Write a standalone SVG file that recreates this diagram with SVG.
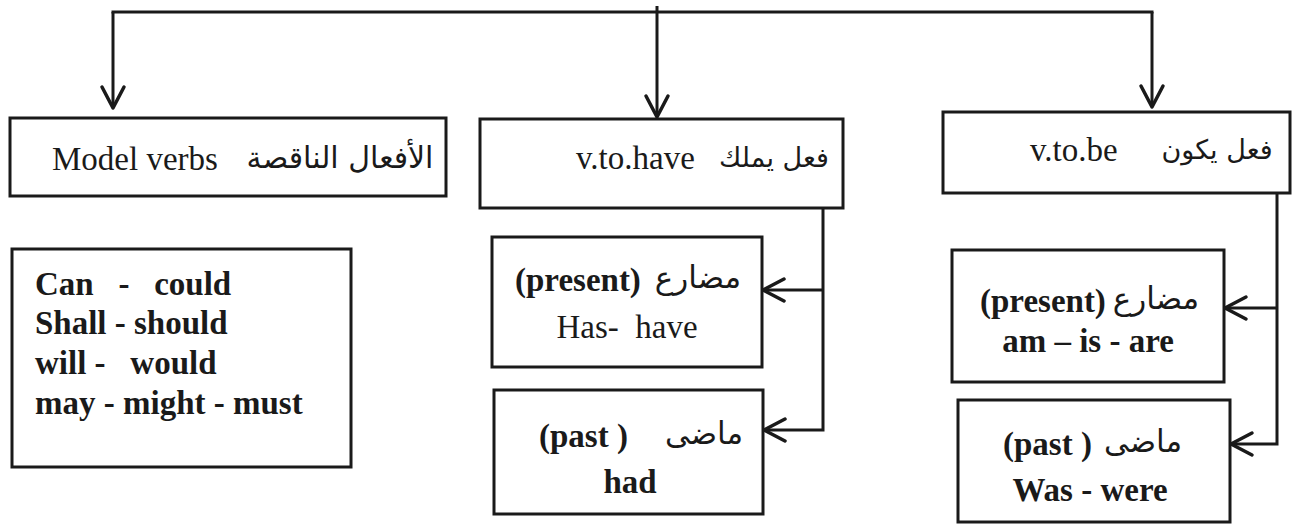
<svg xmlns="http://www.w3.org/2000/svg" width="1301" height="526" viewBox="0 0 1301 526">
<defs>
<style>
.box{fill:#fff;stroke:#1a1a1a;stroke-width:3}
.ln{fill:none;stroke:#1a1a1a;stroke-width:3}
.t{font-family:"Liberation Serif","Times New Roman",serif;font-size:33px;fill:#1a1a1a}
.b{font-weight:bold}
.ar{font-family:"DejaVu Sans",sans-serif;font-size:27px;fill:#1a1a1a}
.ar2{font-family:"DejaVu Sans",sans-serif;font-size:31px;fill:#1a1a1a}
</style>
<marker id="arr" viewBox="0 0 24 24" refX="22" refY="12" markerWidth="24" markerHeight="24" markerUnits="userSpaceOnUse" orient="auto" overflow="visible">
<path d="M1,1 L22,12 L1,23" fill="none" stroke="#1a1a1a" stroke-width="3.5" stroke-linejoin="round" stroke-linecap="round"/>
</marker>
</defs>
<rect width="1301" height="526" fill="#fff"/>

<g id="connectors">
<path class="ln" d="M111.5,12 H1153.5"/>
<path class="ln" d="M113,12 V108" marker-end="url(#arr)"/>
<path class="ln" d="M657,6 V117" marker-end="url(#arr)"/>
<path class="ln" d="M1152,12 V107" marker-end="url(#arr)"/>
<path class="ln" d="M823,208 V430 H764" marker-end="url(#arr)"/>
<path class="ln" d="M823,290 H763" marker-end="url(#arr)"/>
<path class="ln" d="M1277,193 V444 H1231" marker-end="url(#arr)"/>
<path class="ln" d="M1277,308 H1225" marker-end="url(#arr)"/>
</g>

<g id="modal-verbs">
<rect class="box" x="10" y="118" width="436" height="78"/>
<text class="t" x="52" y="170">Model verbs</text>
<text class="ar" x="340" y="168" text-anchor="middle" style="font-size:30px">الأفعال الناقصة</text>
</g>

<g id="to-have">
<rect class="box" x="480" y="119" width="363" height="89"/>
<text class="t" x="576" y="169">v.to.have</text>
<text class="ar" x="774" y="167" text-anchor="middle">فعل يملك</text>
</g>

<g id="to-be">
<rect class="box" x="943" y="112" width="347" height="81"/>
<text class="t" x="1030" y="161">v.to.be</text>
<text class="ar" x="1217" y="159" text-anchor="middle">فعل يكون</text>
</g>

<g id="modal-list">
<rect class="box" x="12" y="249" width="339" height="218"/>
<text class="t b" x="35" y="295" xml:space="preserve">Can   -   could</text>
<text class="t b" x="35" y="334">Shall - should</text>
<text class="t b" x="35" y="374" xml:space="preserve">will -   would</text>
<text class="t b" x="35" y="414">may - might - must</text>
</g>

<g id="have-present">
<rect class="box" x="492" y="237" width="270" height="130"/>
<text class="t b" x="515" y="291">(present)</text>
<text class="ar2" x="698" y="288" text-anchor="middle">مضارع</text>
<text class="t" x="627" y="338" text-anchor="middle" xml:space="preserve">Has-  have</text>
</g>

<g id="have-past">
<rect class="box" x="494" y="390" width="269" height="124"/>
<text class="t b" x="539" y="447">(past )</text>
<text class="ar2" x="704" y="444" text-anchor="middle">ماضى</text>
<text class="t b" x="630" y="493" text-anchor="middle">had</text>
</g>

<g id="be-present">
<rect class="box" x="952" y="250" width="272" height="132"/>
<text class="t b" x="980" y="312">(present)</text>
<text class="ar2" x="1156" y="309" text-anchor="middle">مضارع</text>
<text class="t b" x="1088" y="352" text-anchor="middle">am – is - are</text>
</g>

<g id="be-past">
<rect class="box" x="958" y="400" width="272" height="122"/>
<text class="t b" x="1003" y="455">(past )</text>
<text class="ar2" x="1143" y="452" text-anchor="middle">ماضى</text>
<text class="t b" x="1090" y="501" text-anchor="middle">Was - were</text>
</g>
</svg>
